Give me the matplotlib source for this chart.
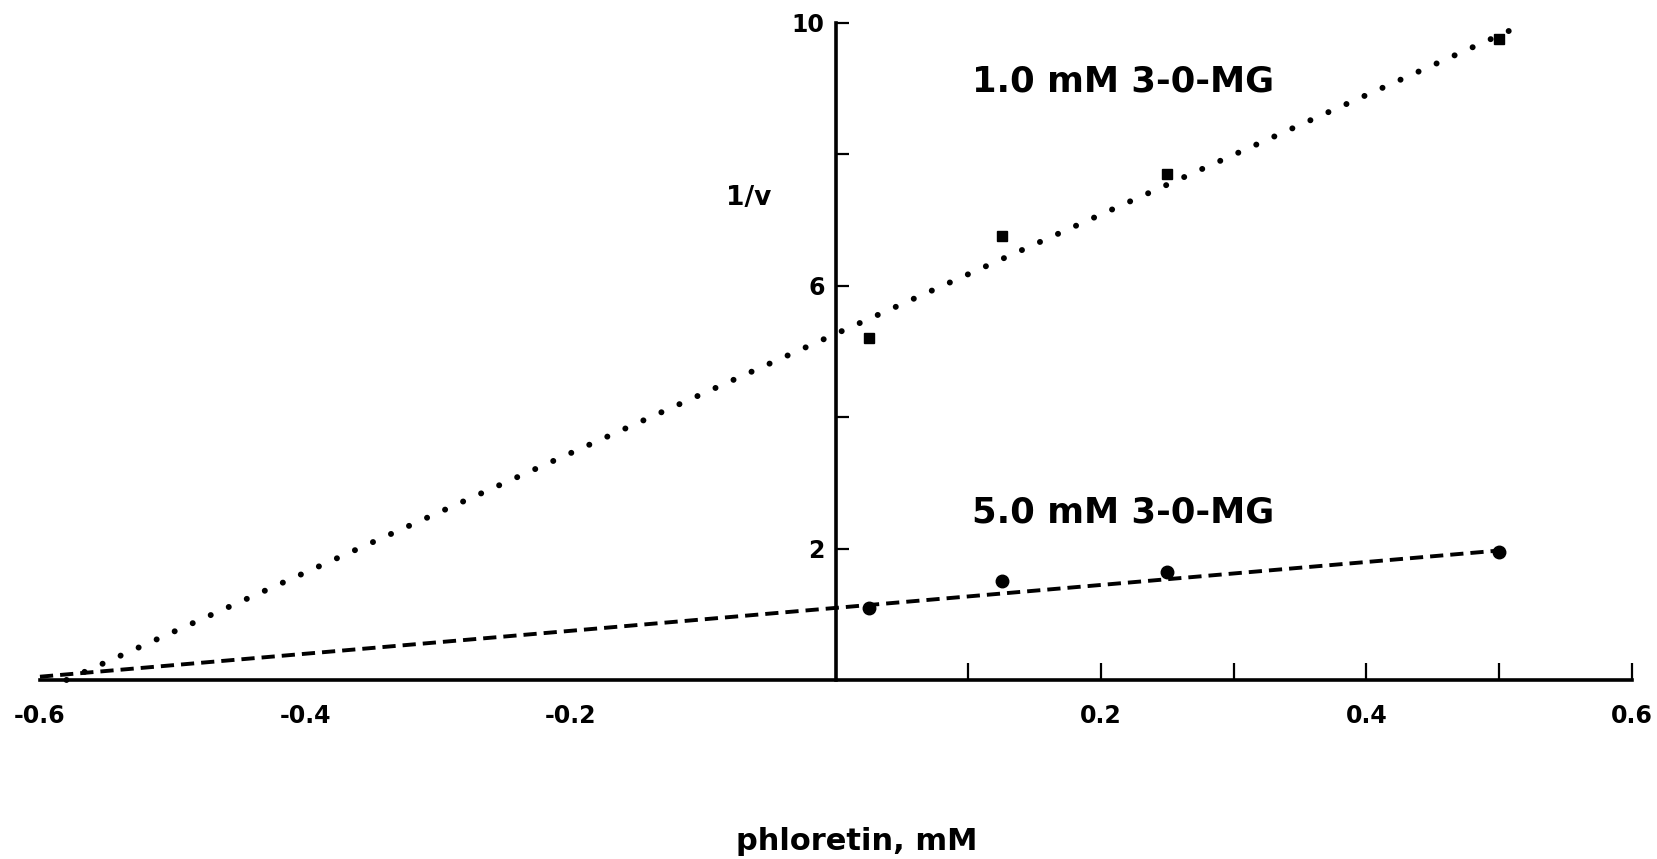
import matplotlib
matplotlib.use('Agg')
import matplotlib.pyplot as plt
import numpy as np

# phloretin concentration (mM) and reciprocal uptake rate 1/v
phloretin = [0.025, 0.125, 0.25, 0.5]
inv_v_1mM = [5.2, 6.75, 7.7, 9.75]
inv_v_5mM = [1.1, 1.5, 1.65, 1.95]

# fitted lines, drawn between their end points
fit_1mM_x = [-0.58, 0.51]
fit_1mM_y = [0.0, 9.9]
fit_5mM_x = [-0.6, 0.5]
fit_5mM_y = [0.05, 1.97]

x_ticks = [-0.6, -0.5, -0.4, -0.3, -0.2, -0.1, 0.1, 0.2, 0.3, 0.4, 0.5, 0.6]
x_labels = ['-0.6', '', '-0.4', '', '-0.2', '', '', '0.2', '', '0.4', '', '0.6']
y_ticks = [2, 4, 6, 8, 10]
y_labels = ['2', '', '6', '', '10']

plt.rcParams['font.family'] = ['DejaVu Sans']
plt.rcParams['font.weight'] = 'bold'

fig = plt.figure(figsize=(16.58, 8.59), dpi=100)
ax = fig.add_axes([0.0241, 0.2084, 0.960, 0.765])
ax.set_xlim(-0.6, 0.6)
ax.set_ylim(0, 10)

ax.plot(fit_1mM_x, fit_1mM_y, color='black', lw=4.3, dashes=[0.01, 3.3],
        dash_capstyle='round', clip_on=False)
ax.plot(fit_5mM_x, fit_5mM_y, color='black', lw=2.8, dashes=[3.4, 1.8],
        clip_on=False)
ax.plot(phloretin, inv_v_1mM, 's', color='black', ms=7.5, clip_on=False)
ax.plot(phloretin, inv_v_5mM, 'o', color='black', ms=9, clip_on=False)

for side in ['top', 'right']:
    ax.spines[side].set_visible(False)
ax.spines['left'].set_position(('data', 0))
ax.spines['bottom'].set_position(('data', 0))
ax.spines['left'].set_linewidth(2.6)
ax.spines['bottom'].set_linewidth(2.6)

ax.set_xticks(x_ticks)
ax.set_xticklabels(x_labels, fontsize=17)
ax.set_yticks(y_ticks)
ax.set_yticklabels(y_labels, fontsize=17)
ax.tick_params(axis='x', direction='in', length=12, width=1.6, pad=17)
ax.tick_params(axis='y', direction='in', length=9, width=1.6, pad=8)
# no tick marks on the negative half of the x axis
for t, val in zip(ax.xaxis.get_major_ticks(), x_ticks):
    if val < 0:
        t.tick1line.set_visible(False)

ax.text(-0.083, 7.33, '1/v', fontsize=19, va='center', ha='left')
ax.text(0.103, 9.1, '1.0 mM 3-0-MG', fontsize=25.5, va='center', ha='left')
ax.text(0.103, 2.55, '5.0 mM 3-0-MG', fontsize=25.5, va='center', ha='left')
fig.text(0.5166, 0.02, 'phloretin, mM', fontsize=22, ha='center', va='center')

fig.savefig('out.png', dpi=100, facecolor='white')
